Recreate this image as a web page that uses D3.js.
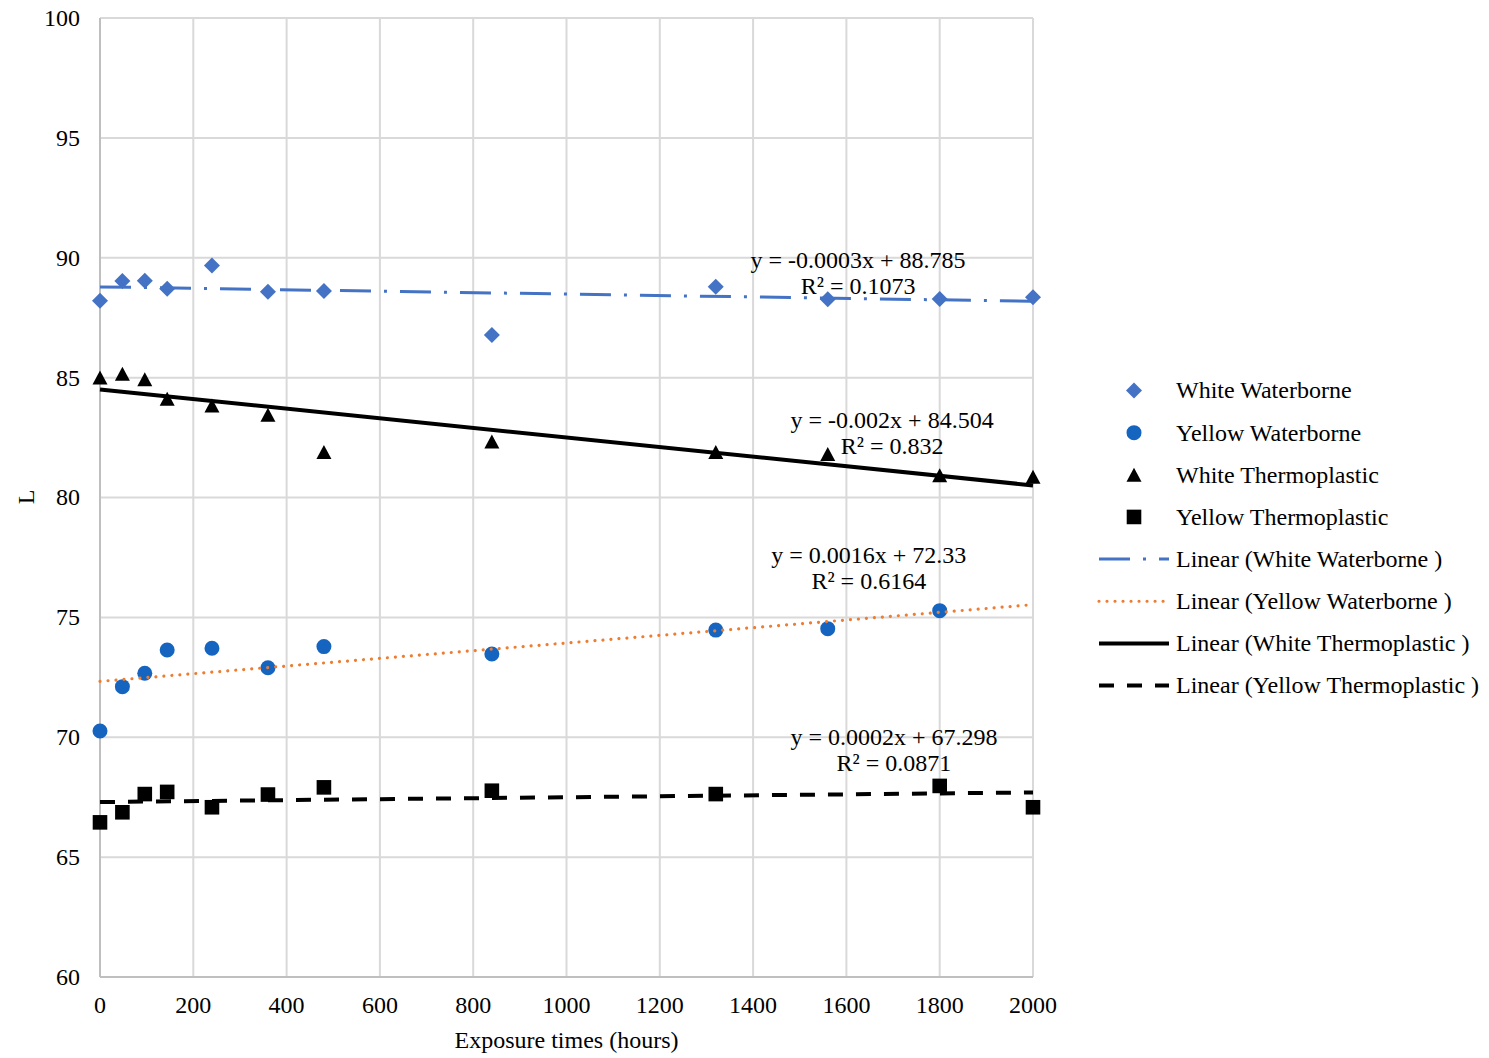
<!DOCTYPE html>
<html>
<head>
<meta charset="utf-8">
<script src="https://cdn.jsdelivr.net/npm/d3@7"></script>
<style>
  html, body { margin: 0; padding: 0; background: #fff; }
  svg text { font-family: "Liberation Serif", "Times New Roman", serif; fill: #000; }
</style>
</head>
<body>
<svg id="chart" width="1489" height="1058"></svg>
<script>
// Exposure times (hours) at which L was measured
const hours = [0, 48, 96, 144, 240, 360, 480, 840, 1320, 1560, 1800, 2000];

// L values per coating (null = not measured)
const whiteWaterborne    = [88.21, 89.03, 89.04, 88.71, 89.68, 88.58, 88.61, 86.78, 88.79, 88.27, 88.28, 88.35];
const yellowWaterborne   = [70.26, 72.11, 72.67, 73.64, 73.71, 72.90, 73.78, 73.47, 74.47, 74.53, 75.28, null];
const whiteThermoplastic = [85.01, 85.16, 84.93, 84.12, 83.84, 83.45, 81.90, 82.34, 81.90, 81.81, 80.93, 80.87];
const yellowThermoplastic= [66.45, 66.87, 67.63, 67.72, 67.08, 67.61, 67.91, 67.77, 67.63, null, 67.97, 67.08];

// Linear fits: slope, intercept, R²
const seriesNames = ["White Waterborne", "Yellow Waterborne", "White Thermoplastic", "Yellow Thermoplastic"];
const fitSlopes     = [-0.0003, 0.0016, -0.002, 0.0002];
const fitIntercepts = [88.785, 72.33, 84.504, 67.298];
const fitR2         = ["0.1073", "0.6164", "0.832", "0.0871"];
const fitEquations  = ["y = -0.0003x + 88.785", "y = 0.0016x + 72.33", "y = -0.002x + 84.504", "y = 0.0002x + 67.298"];

// Axis ticks
const xTicks = [0, 200, 400, 600, 800, 1000, 1200, 1400, 1600, 1800, 2000];
const yTicks = [60, 65, 70, 75, 80, 85, 90, 95, 100];

// ---- layout & styles ----
const plot = { left: 100, right: 1033, top: 18, bottom: 977 };
const fontSize = 24;
const styles = [
  { marker: "diamond",  fill: "#4472C4", line: "#4472C4", width: 3,   dash: "31,13,3,13", cap: "butt" },
  { marker: "circle",   fill: "#1565C0", line: "#ED7D31", width: 3.2, dash: "0.01,8",     cap: "round" },
  { marker: "triangle", fill: "#000000", line: "#000000", width: 4,   dash: null,         cap: "butt" },
  { marker: "square",   fill: "#000000", line: "#000000", width: 4,   dash: "15,13",      cap: "butt" }
];
// equation label anchors in data units (centre x, baseline of first line)
const labelAnchors = [[1625, 89.57], [1648, 77.27], [1698, 82.90], [1702, 69.68]];

const svg = d3.select("#chart");
const x = d3.scaleLinear().domain([0, 2000]).range([plot.left, plot.right]);
const y = d3.scaleLinear().domain([60, 100]).range([plot.bottom, plot.top]);

// gridlines
const grid = svg.append("g");
grid.selectAll("line.h").data(yTicks.slice(1)).join("line")
  .attr("x1", plot.left).attr("x2", plot.right)
  .attr("y1", d => y(d)).attr("y2", d => y(d))
  .attr("stroke", "#d9d9d9").attr("stroke-width", 2);
grid.selectAll("line.v").data(xTicks.slice(1)).join("line")
  .attr("y1", plot.top).attr("y2", plot.bottom)
  .attr("x1", d => x(d)).attr("x2", d => x(d))
  .attr("stroke", "#d9d9d9").attr("stroke-width", 2);

// axes lines
svg.append("line").attr("x1", plot.left).attr("x2", plot.left)
  .attr("y1", plot.top).attr("y2", plot.bottom)
  .attr("stroke", "#bfbfbf").attr("stroke-width", 2);
svg.append("line").attr("x1", plot.left).attr("x2", plot.right)
  .attr("y1", plot.bottom).attr("y2", plot.bottom)
  .attr("stroke", "#bfbfbf").attr("stroke-width", 2);

// tick labels
svg.append("g").selectAll("text").data(yTicks).join("text")
  .attr("x", 80).attr("y", d => y(d)).attr("dy", "0.33em")
  .attr("text-anchor", "end").attr("font-size", fontSize)
  .text(d => d);
svg.append("g").selectAll("text").data(xTicks).join("text")
  .attr("x", d => x(d)).attr("y", 1013)
  .attr("text-anchor", "middle").attr("font-size", fontSize)
  .text(d => d);

// axis titles
svg.append("text").attr("x", x(1000)).attr("y", 1048)
  .attr("text-anchor", "middle").attr("font-size", fontSize)
  .text("Exposure times (hours)");
svg.append("text").attr("transform", "translate(34,497) rotate(-90)")
  .attr("text-anchor", "middle").attr("font-size", fontSize)
  .text("L");

// marker paths
function markerPath(type, cx, cy) {
  const p = d3.path();
  if (type === "diamond") {
    const r = 8;
    p.moveTo(cx, cy - r); p.lineTo(cx + r, cy); p.lineTo(cx, cy + r); p.lineTo(cx - r, cy); p.closePath();
  } else if (type === "triangle") {
    const w = 7.5, h = 7;
    p.moveTo(cx, cy - h); p.lineTo(cx + w, cy + h); p.lineTo(cx - w, cy + h); p.closePath();
  } else if (type === "square") {
    const s = 7.3;
    p.rect(cx - s, cy - s, 2 * s, 2 * s);
  } else {
    p.arc(cx, cy, 7.5, 0, 2 * Math.PI);
  }
  return p.toString();
}

const allValues = [whiteWaterborne, yellowWaterborne, whiteThermoplastic, yellowThermoplastic];
const drawOrder = [0, 1, 2, 3];

// scatter markers
drawOrder.forEach(i => {
  const pts = hours.map((h, k) => ({ h, v: allValues[i][k] })).filter(d => d.v != null);
  svg.append("g").selectAll("path").data(pts).join("path")
    .attr("d", d => markerPath(styles[i].marker, x(d.h), y(d.v)))
    .attr("fill", styles[i].fill);
});

// trendlines from the fitted equations
const fitLine = d3.line().x(d => x(d[0])).y(d => y(d[1]));
drawOrder.forEach(i => {
  const ends = [0, 2000].map(h => [h, fitIntercepts[i] + fitSlopes[i] * h]);
  svg.append("path").attr("d", fitLine(ends))
    .attr("fill", "none")
    .attr("stroke", styles[i].line)
    .attr("stroke-width", styles[i].width)
    .attr("stroke-linecap", styles[i].cap)
    .attr("stroke-dasharray", styles[i].dash);
});

// equation labels
drawOrder.forEach(i => {
  const [ax, ay] = labelAnchors[i];
  const t = svg.append("text").attr("text-anchor", "middle").attr("font-size", fontSize);
  t.append("tspan").attr("x", x(ax)).attr("y", y(ay)).text(fitEquations[i]);
  t.append("tspan").attr("x", x(ax)).attr("y", y(ay) + 26).text("R² = " + fitR2[i]);
});

// legend
const legend = svg.append("g");
const rowY = k => 390.5 + k * 42.15;
seriesNames.forEach((name, i) => {
  legend.append("path").attr("d", markerPath(styles[i].marker, 1134, rowY(i)))
    .attr("fill", styles[i].fill);
  legend.append("text").attr("x", 1176).attr("y", rowY(i)).attr("dy", "0.33em")
    .attr("font-size", fontSize).text(name);
});
seriesNames.forEach((name, i) => {
  const yy = rowY(i + 4);
  legend.append("line").attr("x1", 1099).attr("x2", 1169).attr("y1", yy).attr("y2", yy)
    .attr("stroke", styles[i].line)
    .attr("stroke-width", styles[i].width)
    .attr("stroke-linecap", styles[i].cap)
    .attr("stroke-dasharray", styles[i].dash);
  legend.append("text").attr("x", 1176).attr("y", yy).attr("dy", "0.33em")
    .attr("font-size", fontSize).text("Linear (" + name + " )");
});
</script>
</body>
</html>
